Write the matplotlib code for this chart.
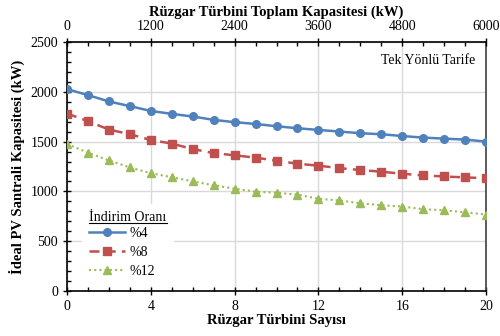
import matplotlib
matplotlib.use("Agg")
import matplotlib.pyplot as plt
from matplotlib.ticker import MultipleLocator
from matplotlib.lines import Line2D

plt.rcParams['font.family'] = ['Liberation Serif', 'DejaVu Serif']

turbines = list(range(0, 21))
rate4 = [2027, 1967, 1903, 1856, 1808, 1778, 1752, 1718, 1695, 1677, 1654,
         1634, 1617, 1601, 1584, 1574, 1556, 1540, 1530, 1520, 1500]
rate8 = [1782, 1705, 1621, 1574, 1516, 1480, 1425, 1385, 1362, 1339, 1308,
         1278, 1258, 1234, 1214, 1198, 1177, 1160, 1150, 1140, 1133]
rate12 = [1477, 1388, 1311, 1240, 1183, 1142, 1101, 1061, 1027, 997, 987,
          967, 926, 909, 881, 861, 848, 821, 810, 790, 767]
labels = ['%4', '%8', '%12']
kw_per_turbine = 300

fig = plt.figure(figsize=(5, 3.36), dpi=100)
ax = fig.add_axes([0.134, 0.134, 0.838, 0.741])

c_blue, c_red, c_green = '#4F81BD', '#C0504D', '#9BBB59'
ax.plot(turbines, rate4, color=c_blue, lw=1.8, marker='o', ms=5.5, label=labels[0], zorder=3)
ax.plot(turbines, rate8, color=c_red, lw=1.8, ls=(0, (4, 2.5)), marker='s', ms=5.5, label=labels[1], zorder=3)
ax.plot(turbines, rate12, color=c_green, lw=1.5, ls=(0, (1, 1.5)), marker='^', ms=5.5, label=labels[2], zorder=3)

ax.set_xlim(0, 20)
ax.set_ylim(0, 2500)
ax.xaxis.set_major_locator(MultipleLocator(4))
ax.xaxis.set_minor_locator(MultipleLocator(1))
ax.yaxis.set_major_locator(MultipleLocator(500))
ax.yaxis.set_minor_locator(MultipleLocator(100))
ax.grid(True, which='major', color='#D9D9D9', lw=1.0, zorder=0)
ax.set_axisbelow(True)

ax.tick_params(which='major', direction='inout', length=6, width=1, labelsize=10, colors='black')
ax.tick_params(which='minor', direction='in', length=3, width=1)
ax.tick_params(axis='y', right=False)
for s in ['left', 'bottom', 'top']:
    ax.spines[s].set_linewidth(1.2)
    ax.spines[s].set_color('black')
ax.spines['right'].set_color('#404040')
ax.spines['right'].set_linewidth(1.2)

ax.set_xlabel('Rüzgar Türbini Sayısı', fontsize=10.5, fontweight='bold', labelpad=1)
ax.set_ylabel('İdeal PV Santrali Kapasitesi (kW)', fontsize=10.5, fontweight='bold', labelpad=4)

ax2 = ax.twiny()
ax2.set_xlim(0, 20 * kw_per_turbine)
ax2.xaxis.set_major_locator(MultipleLocator(1200))
ax2.xaxis.set_minor_locator(MultipleLocator(300))
ax2.tick_params(which='major', direction='inout', length=6, width=1, labelsize=10)
ax2.tick_params(which='minor', direction='in', length=3, width=1)
ax2.set_xlabel('Rüzgar Türbini Toplam Kapasitesi (kW)', fontsize=10.5, fontweight='bold', labelpad=3)
for s in ax2.spines.values():
    s.set_visible(False)

ax.text(0.975, 0.925, 'Tek Yönlü Tarife', transform=ax.transAxes, ha='right', va='center', fontsize=10)

leg = ax.legend(loc='lower left', bbox_to_anchor=(0.02, -0.005), title='İndirim Oranı',
                frameon=True, fancybox=False, framealpha=1, edgecolor='white',
                fontsize=10, title_fontsize=10, handlelength=2.6, handletextpad=0.3,
                labelspacing=0.45, borderpad=0.5)
leg._legend_box.align = 'left'
leg._legend_box.sep = 2
leg.set_zorder(5)

fig.canvas.draw()
r = fig.canvas.get_renderer()
bb = leg.get_title().get_window_extent(r)
inv = fig.transFigure.inverted()
(x0, y0), (x1, _) = inv.transform([(bb.x0, bb.y0 + 1), (bb.x1, bb.y0 + 1)])
fig.add_artist(Line2D([x0, x1], [y0, y0], color='black', lw=0.8, zorder=10))

fig.savefig('out.png', dpi=100)
